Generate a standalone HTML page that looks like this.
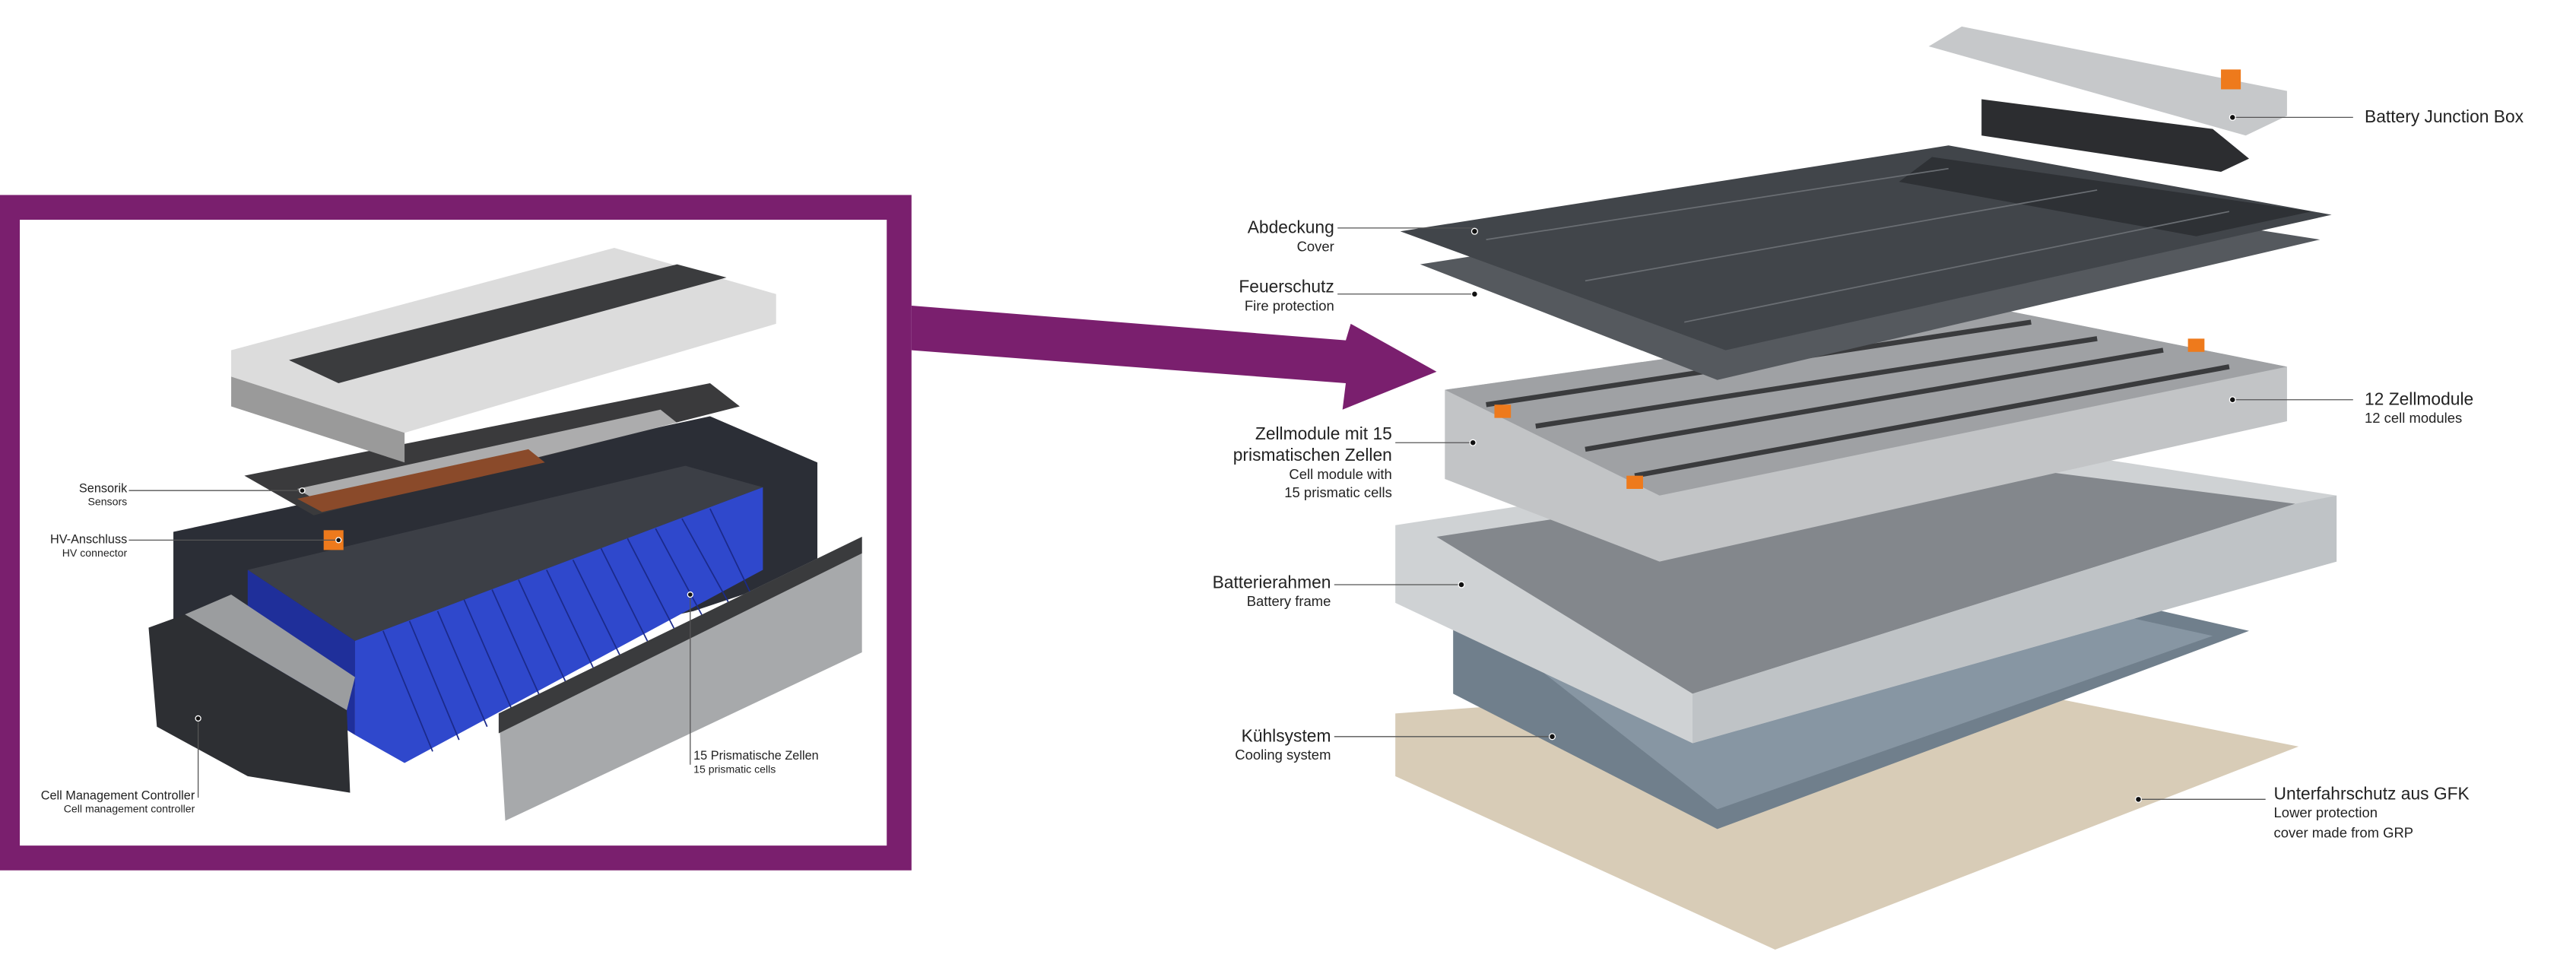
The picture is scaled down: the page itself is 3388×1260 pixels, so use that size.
<!DOCTYPE html>
<html>
<head>
<meta charset="utf-8">
<style>
html,body{margin:0;padding:0;background:#fff;}
svg{display:block;}
text{font-family:"Liberation Sans","DejaVu Sans",sans-serif;fill:#222;}
.lbl{font-size:10.5px;}
.sub{font-size:8.5px;}
.sl{font-size:7.5px;}
.ss{font-size:6.5px;}
.lead{stroke:#555;stroke-width:0.6;fill:none;}
.dot{fill:#111;stroke:#fff;stroke-width:0.6;}
</style>
</head>
<body>
<svg width="3388" height="1260" viewBox="0 0 1560 580">
  <g>
    <rect x="0" y="118" width="552" height="409" fill="#7a1f6e"/>
    <rect x="12" y="133" width="525" height="379" fill="#fff"/>
    <polygon points="105,322 430,252 495,280 495,345 420,370 105,440" fill="#2b2e36"/>
    <polygon points="150,345 415,282 462,295 215,388" fill="#3c3f46"/>
    <polygon points="150,345 215,388 215,445 150,405" fill="#1f2f9a"/>
    <polygon points="215,388 462,295 462,345 245,462 215,445" fill="#2f48cc"/>
    <g stroke="#1b2a8a" stroke-width="0.8">
      <line x1="232" y1="382" x2="262" y2="455"/><line x1="248" y1="376" x2="278" y2="448"/>
      <line x1="265" y1="370" x2="295" y2="440"/><line x1="281" y1="363" x2="311" y2="432"/>
      <line x1="298" y1="357" x2="328" y2="424"/><line x1="314" y1="351" x2="344" y2="416"/>
      <line x1="331" y1="345" x2="361" y2="408"/><line x1="347" y1="339" x2="377" y2="400"/>
      <line x1="364" y1="332" x2="394" y2="392"/><line x1="380" y1="326" x2="410" y2="384"/>
      <line x1="397" y1="320" x2="427" y2="376"/><line x1="413" y1="314" x2="443" y2="368"/>
      <line x1="430" y1="308" x2="455" y2="360"/>
    </g>
    <polygon points="148,288 430,232 448,246 190,312" fill="#3a3a3c"/>
    <polygon points="180,296 400,248 410,256 200,308" fill="#c9c9c9" opacity="0.8"/>
    <polygon points="180,302 320,272 330,280 195,310" fill="#8a4a2a"/>
    <polygon points="140,212 372,150 470,178 470,196 245,262 140,228" fill="#dcdcdc"/>
    <polygon points="175,218 410,160 440,168 205,232" fill="#3b3c3e"/>
    <polygon points="140,228 245,262 245,280 140,246" fill="#9a9a9a"/>
    <rect x="196" y="321" width="12" height="12" fill="#ee7a1c"/>
    <polygon points="302,432 522,325 522,395 306,497" fill="#a7a9ab"/>
    <polygon points="302,432 522,325 522,335 302,444" fill="#3a3b3d"/>
    <polygon points="90,380 112,372 210,430 212,480 150,470 95,440" fill="#2d2f33"/>
    <polygon points="112,372 140,360 215,410 210,430" fill="#9b9d9f"/>
    <path class="lead" d="M78,297 H183"/><circle class="dot" cx="183" cy="297" r="1.6"/>
    <path class="lead" d="M78,327 H205"/><circle class="dot" cx="205" cy="327" r="1.6"/>
    <path class="lead" d="M120,483 V435"/><circle class="dot" cx="120" cy="435" r="1.6"/>
    <path class="lead" d="M418,463 V360"/><circle class="dot" cx="418" cy="360" r="1.6"/>
    <text class="sl" x="77" y="298" text-anchor="end">Sensorik</text>
    <text class="ss" x="77" y="306" text-anchor="end">Sensors</text>
    <text class="sl" x="77" y="329" text-anchor="end">HV-Anschluss</text>
    <text class="ss" x="77" y="337" text-anchor="end">HV connector</text>
    <text class="sl" x="118" y="484" text-anchor="end">Cell Management Controller</text>
    <text class="ss" x="118" y="492" text-anchor="end">Cell management controller</text>
    <text class="sl" x="420" y="460">15 Prismatische Zellen</text>
    <text class="ss" x="420" y="468">15 prismatic cells</text>
  </g>

  <polygon points="552,185 815,206 818,196 870,225 813,248 815,232 552,212" fill="#7a1f6e"/>

  <g>
    <polygon points="845,432 1170,408 1392,452 1075,575 845,470" fill="#d8ccb7"/>
    <polygon points="880,372 1200,345 1362,382 1040,502 880,420" fill="#707f8c"/>
    <polygon points="900,380 1190,352 1340,385 1040,490" fill="#8796a3"/>
    <polygon points="845,318 1190,265 1415,300 1415,340 1025,450 845,365" fill="#cfd2d4"/>
    <polygon points="870,325 1180,278 1390,305 1025,420" fill="#83878c"/>
    <polygon points="1025,420 1390,305 1415,300 1415,340 1025,450" fill="#bfc3c6"/>
    <polygon points="875,236 1215,188 1385,222 1385,255 1005,340 875,290" fill="#c2c4c6"/>
    <polygon points="875,236 1215,188 1385,222 1005,300" fill="#9fa1a4"/>
    <g stroke="#3a3b3d" stroke-width="3">
      <line x1="900" y1="245" x2="1230" y2="195"/>
      <line x1="930" y1="258" x2="1270" y2="205"/>
      <line x1="960" y1="272" x2="1310" y2="212"/>
      <line x1="990" y1="288" x2="1350" y2="222"/>
    </g>
    <rect x="905" y="245" width="10" height="8" fill="#ee7a1c"/>
    <rect x="985" y="288" width="10" height="8" fill="#ee7a1c"/>
    <rect x="1325" y="205" width="10" height="8" fill="#ee7a1c"/>
    <polygon points="860,160 1180,110 1405,145 1040,230" fill="#55595e"/>
    <polygon points="848,140 1180,88 1412,130 1045,212" fill="#41454a"/>
    <polygon points="1170,95 1400,128 1330,143 1150,110" fill="#2e3135"/>
    <g stroke="#6a6e73" stroke-width="0.8">
      <line x1="900" y1="145" x2="1180" y2="102"/>
      <line x1="960" y1="170" x2="1270" y2="115"/>
      <line x1="1020" y1="195" x2="1350" y2="128"/>
    </g>
    <polygon points="1200,60 1340,78 1362,96 1345,104 1200,82" fill="#2c2d30"/>
    <polygon points="1168,28 1188,16 1385,55 1385,70 1360,82" fill="#c6c8ca"/>
    <rect x="1345" y="42" width="12" height="12" fill="#ee7a1c"/>
    <path class="lead" d="M1425,71 H1352"/><circle class="dot" cx="1352" cy="71" r="1.8"/>
    <path class="lead" d="M810,138 H893"/><circle class="dot" cx="893" cy="140" r="1.8"/>
    <path class="lead" d="M810,178 H893"/><circle class="dot" cx="893" cy="178" r="1.8"/>
    <path class="lead" d="M845,268 H892"/><circle class="dot" cx="892" cy="268" r="1.8"/>
    <path class="lead" d="M1425,242 H1352"/><circle class="dot" cx="1352" cy="242" r="1.8"/>
    <path class="lead" d="M808,354 H885"/><circle class="dot" cx="885" cy="354" r="1.8"/>
    <path class="lead" d="M808,446 H940"/><circle class="dot" cx="940" cy="446" r="1.8"/>
    <path class="lead" d="M1372,484 H1295"/><circle class="dot" cx="1295" cy="484" r="1.8"/>
    <text class="lbl" x="1432" y="74">Battery Junction Box</text>
    <text class="lbl" x="808" y="141" text-anchor="end">Abdeckung</text>
    <text class="sub" x="808" y="152" text-anchor="end">Cover</text>
    <text class="lbl" x="808" y="177" text-anchor="end">Feuerschutz</text>
    <text class="sub" x="808" y="188" text-anchor="end">Fire protection</text>
    <text class="lbl" x="843" y="266" text-anchor="end">Zellmodule mit 15</text>
    <text class="lbl" x="843" y="279" text-anchor="end">prismatischen Zellen</text>
    <text class="sub" x="843" y="290" text-anchor="end">Cell module with</text>
    <text class="sub" x="843" y="301" text-anchor="end">15 prismatic cells</text>
    <text class="lbl" x="1432" y="245">12 Zellmodule</text>
    <text class="sub" x="1432" y="256">12 cell modules</text>
    <text class="lbl" x="806" y="356" text-anchor="end">Batterierahmen</text>
    <text class="sub" x="806" y="367" text-anchor="end">Battery frame</text>
    <text class="lbl" x="806" y="449" text-anchor="end">Kühlsystem</text>
    <text class="sub" x="806" y="460" text-anchor="end">Cooling system</text>
    <text class="lbl" x="1377" y="484">Unterfahrschutz aus GFK</text>
    <text class="sub" x="1377" y="495">Lower protection</text>
    <text class="sub" x="1377" y="507">cover made from GRP</text>
  </g>
</svg>
</body>
</html>
